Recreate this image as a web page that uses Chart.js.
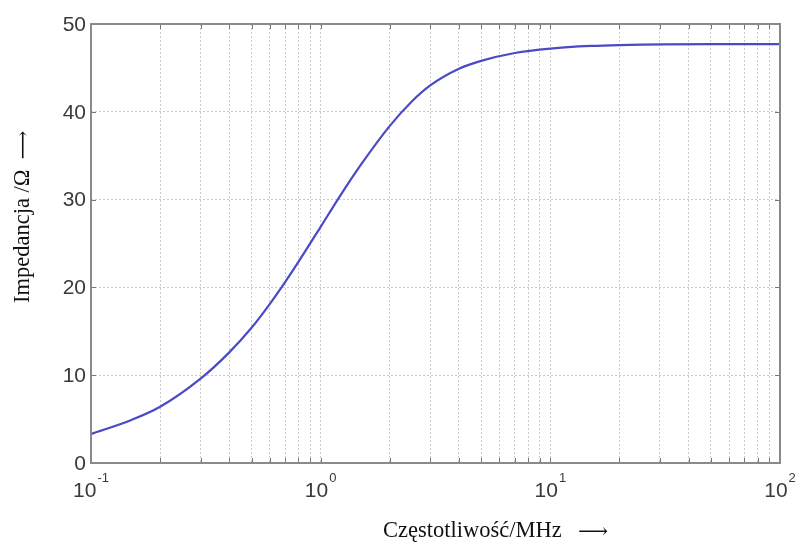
<!DOCTYPE html>
<html>
<head>
<meta charset="utf-8">
<script src="https://cdn.jsdelivr.net/npm/chart.js@4/dist/chart.umd.min.js"></script>
<style>
  body { margin: 0; background: #fff; }
  #wrap { width: 801px; height: 542px; position: relative; }
</style>
</head>
<body>
<div id="wrap"><canvas id="myChart"></canvas></div>
<script>
// values
let freqMHz = [0.1, 0.15, 0.2, 0.3, 0.4, 0.5, 0.6, 0.7, 0.8, 1, 1.2, 1.5, 2, 2.5, 3, 4, 5, 7, 10, 15, 20, 50, 100];
let impedance = [3.3, 4.9, 6.4, 9.6, 12.6, 15.4, 18.1, 20.6, 22.9, 26.9, 30.2, 34.0, 38.4, 41.2, 43.0, 44.9, 45.8, 46.7, 47.2, 47.5, 47.6, 47.7, 47.7];

// grid / tick positions
let xGrid = [0.1, 0.2, 0.3, 0.4, 0.5, 0.6, 0.7, 0.8, 0.9,
             1, 2, 3, 4, 5, 6, 7, 8, 9,
             10, 20, 30, 40, 50, 60, 70, 80, 90, 100];
let xMajor = [0.1, 1, 10, 100];
let xExp = ["-1", "0", "1", "2"];
let yTicks = [0, 10, 20, 30, 40, 50];

const xTitle = "Częstotliwość/MHz";
const yTitle = "Impedancja /Ω";

// box, tick labels and axis titles in MATLAB style
const decor = {
  id: "decor",
  afterDraw(chart) {
    const c = chart.ctx;
    const a = chart.chartArea;
    const xs = chart.scales.x;
    const ys = chart.scales.y;
    c.save();
    c.setLineDash([]);

    // small inward tick marks
    c.strokeStyle = "#777";
    c.lineWidth = 1;
    xGrid.forEach(v => {
      const px = Math.round(xs.getPixelForValue(v)) + 0.5;
      c.beginPath();
      c.moveTo(px, a.bottom); c.lineTo(px, a.bottom - 5);
      c.moveTo(px, a.top); c.lineTo(px, a.top + 5);
      c.stroke();
    });
    yTicks.forEach(v => {
      const py = Math.round(ys.getPixelForValue(v)) + 0.5;
      c.beginPath();
      c.moveTo(a.left, py); c.lineTo(a.left + 5, py);
      c.moveTo(a.right, py); c.lineTo(a.right - 5, py);
      c.stroke();
    });

    // box
    c.strokeStyle = "#8a8a8a";
    c.lineWidth = 2;
    c.strokeRect(a.left, a.top, a.right - a.left, a.bottom - a.top);

    // y tick labels
    c.fillStyle = "#3a3a3a";
    c.font = "21px 'Liberation Sans', Arial, sans-serif";
    c.textAlign = "right";
    c.textBaseline = "middle";
    yTicks.forEach(v => {
      c.fillText(String(v), a.left - 5, ys.getPixelForValue(v) + 1);
    });

    // x tick labels 10^n
    xMajor.forEach((v, i) => {
      const px = xs.getPixelForValue(v);
      c.font = "21px 'Liberation Sans', Arial, sans-serif";
      const w1 = c.measureText("10").width;
      c.font = "13px 'Liberation Sans', Arial, sans-serif";
      const w2 = c.measureText(xExp[i]).width;
      const x0 = px - (w1 + w2 + 1) / 2;
      c.textAlign = "left";
      c.textBaseline = "alphabetic";
      c.font = "21px 'Liberation Sans', Arial, sans-serif";
      c.fillText("10", x0, 497);
      c.font = "13px 'Liberation Sans', Arial, sans-serif";
      c.fillText(xExp[i], x0 + w1 + 1, 482);
    });

    // axis titles
    c.fillStyle = "#111";
    c.font = "22.5px 'Liberation Serif', 'DejaVu Serif', serif";
    c.textAlign = "left";
    c.textBaseline = "alphabetic";
    c.fillText(xTitle, 383, 537);
    c.font = "21px 'DejaVu Serif', serif";
    c.fillText("⟶", 578, 538);

    c.translate(29, 303);
    c.rotate(-Math.PI / 2);
    c.font = "22.5px 'Liberation Serif', 'DejaVu Serif', serif";
    c.fillText(yTitle, 0, 0);
    const tw = c.measureText(yTitle).width;
    c.font = "20px 'DejaVu Serif', serif";
    c.fillText("⟶", tw + 10, 0);
    c.restore();
  }
};

const ctx = document.getElementById("myChart");

new Chart(ctx, {
  type: "line",
  data: {
    datasets: [
      {
        label: "Z",
        data: freqMHz.map((f, i) => ({ x: f, y: impedance[i] })),
        borderColor: "#4a4ac6",
        borderWidth: 2.2,
        pointRadius: 0,
        fill: false,
        cubicInterpolationMode: "monotone",
      },
    ],
  },
  options: {
    responsive: true,
    maintainAspectRatio: false,
    animation: false,
    layout: {
      padding: { left: 91, top: 24, right: 21, bottom: 79 }
    },
    plugins: {
      legend: { display: false },
      tooltip: { enabled: false },
    },
    scales: {
      x: {
        type: "logarithmic",
        min: 0.1,
        max: 100,
        afterBuildTicks: (scale) => {
          scale.ticks = xGrid.map(v => ({ value: v }));
        },
        ticks: { display: false },
        grid: {
          color: "#c8c8c8",
          lineWidth: 1,
          drawTicks: false,
        },
        border: { display: false, dash: [2, 2] },
      },
      y: {
        min: 0,
        max: 50,
        afterBuildTicks: (scale) => {
          scale.ticks = yTicks.map(v => ({ value: v }));
        },
        ticks: { display: false },
        grid: {
          color: "#c8c8c8",
          lineWidth: 1,
          drawTicks: false,
        },
        border: { display: false, dash: [2, 2] },
      },
    },
  },
  plugins: [decor],
});
</script>
</body>
</html>
